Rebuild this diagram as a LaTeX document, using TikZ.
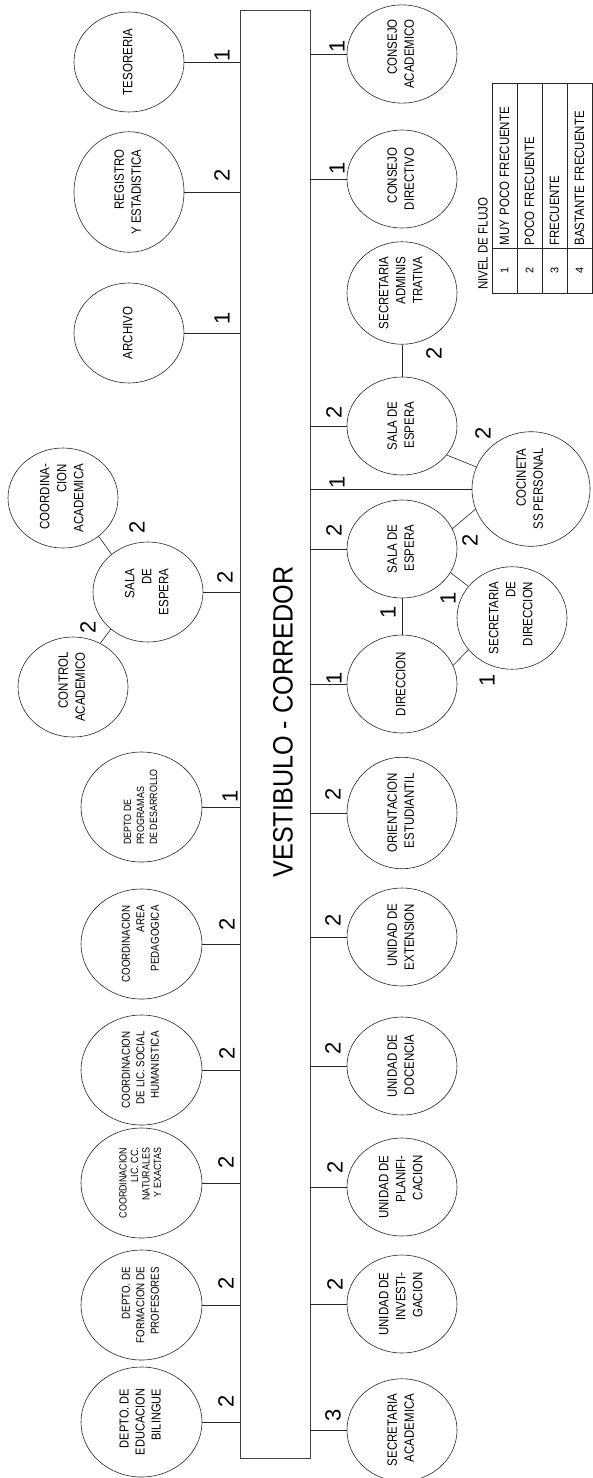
\documentclass[tikz,border=0pt]{standalone}
\usepackage{fontspec}
\usepackage{graphicx}
\setmainfont{Liberation Sans}
\newfontfamily\nar[FakeStretch=0.85]{Liberation Sans}
\newfontfamily\corrfont[FakeStretch=0.9]{Liberation Sans}
\usetikzlibrary{shapes.geometric}
\newcommand{\rtxt}[1]{\rotatebox{90}{\begin{tabular}{@{}r@{}}#1\end{tabular}}}
\newcommand{\ltxt}[1]{\rotatebox{90}{\begin{tabular}{@{}l@{}}#1\end{tabular}}}
\tikzset{
  ell/.style={draw=black!85, ellipse, inner sep=0pt, line width=0.6pt},
  ls/.style={ell, minimum width=110pt, minimum height=100pt, font=\nar\fontsize{13.5}{17}\selectfont},
  ll/.style={ell, minimum width=121pt, minimum height=110pt, font=\nar\fontsize{11.5}{14.5}\selectfont},
  rs/.style={ell, minimum width=110pt, minimum height=98pt, font=\nar\fontsize{13.5}{17}\selectfont},
  num/.style={rotate=90, inner sep=0pt, font=\fontsize{22}{22}\selectfont},
  conn/.style={draw=black!85, line width=0.6pt},
  cell/.style={draw=black!85, line width=0.6pt, rotate=90, minimum height=25pt, inner sep=0pt},
}
\begin{document}
\begin{tikzpicture}[x=1pt, y=-1pt]
\useasboundingbox (0,0) rectangle (593,1478);
% corridor
\node[draw=black!75, line width=0.9pt, minimum width=70pt, minimum height=1448pt, inner sep=0pt] (corr) at (275,734) {};
\node[rotate=90, inner sep=0pt, font=\corrfont\fontsize{28}{28}\selectfont] (corrtxt) at (283,722) {VESTIBULO - CORREDOR};

% left upper
\node[ls] (tes) at (129,62) {\rtxt{TESORERIA}};
\node[ls] (reg) at (129,192) {\rtxt{REGISTRO\\ Y ESTADISTICA}};
\node[ls] (arch) at (129,333) {\rtxt{ARCHIVO}};
\node[ls] (salal) at (148,592) {\rtxt{SALA\\DE\\ESPERA}};
\node[ls] (coordac) at (63,498) {\rtxt{COORDINA-\\CION\\ACADEMICA}};
\node[ls] (ctrl) at (73,687) {\rtxt{CONTROL\\ACADEMICO}};

% left lower
\node[ll, font=\nar\fontsize{10.5}{13}\selectfont] (prog) at (141.5,807) {\ltxt{DEPTO DE\\PROGRAMAS\\DE DESARROLLO}};
\node[ll] (area) at (141.5,944) {\rtxt{COORDINACION\\AREA\\PEDAGOGICA}};
\node[ll] (social) at (141.5,1070) {\rtxt{COORDINACION\\DE LIC. SOCIAL\\HUMANISTICA}};
\node[ll, font=\nar\fontsize{10.5}{11.5}\selectfont] (nat) at (141.5,1183) {\rtxt{COORDINACION\\LIC. CC.\\NATURALES\\Y EXACTAS}};
\node[ll] (form) at (141.5,1305) {\rtxt{DEPTO. DE\\FORMACION DE\\PROFESORES}};
\node[ll, font=\nar\fontsize{13}{16}\selectfont] (bil) at (141.5,1422) {\rtxt{DEPTO. DE\\EDUCACION\\BILINGUE}};

% right
\node[rs] (consac) at (402,54) {\rtxt{CONSEJO\\ACADEMICO}};
\node[rs] (consdir) at (402,179) {\rtxt{CONSEJO\\DIRECTIVO}};
\node[rs] (secadm) at (402,293) {\rtxt{SECRETARIA\\ADMINIS\\TRATIVA}};
\node[rs] (salau) at (402,426) {\rtxt{SALA DE\\ESPERA}};
\node[rs, minimum width=118pt, minimum height=108pt] (coc) at (531,489) {\rtxt{COCINETA\\SS PERSONAL}};
\node[rs] (salab) at (402,549) {\rtxt{SALA DE\\ESPERA}};
\node[rs, minimum height=100pt] (secdir) at (512,618) {\rtxt{SECRETARIA\\DE\\DIRECCION}};
\node[rs] (dir) at (402,684) {\rtxt{DIRECCION}};
\node[rs] (orient) at (402,813) {\rtxt{ORIENTACION\\ESTUDIANTIL}};
\node[rs] (ext) at (402,937) {\rtxt{UNIDAD DE\\EXTENSION}};
\node[rs] (doc) at (402,1066) {\rtxt{UNIDAD DE\\DOCENCIA}};
\node[rs] (plan) at (402,1187) {\rtxt{UNIDAD DE\\PLANIFI-\\CACION}};
\node[rs] (inv) at (402,1304) {\rtxt{UNIDAD DE\\INVESTI-\\GACION}};
\node[rs] (secac) at (402,1430) {\rtxt{SECRETARIA\\ACADEMICA}};

% connectors to corridor (left)
\foreach \n in {tes,reg,arch,salal,prog,area,social,nat,form,bil}
  \draw[conn] (\n.east) -- (\n.east -| corr.west);
% connectors to corridor (right)
\foreach \n in {consac,consdir,salau,coc,salab,dir,orient,ext,doc,plan,inv,secac}
  \draw[conn] (\n.west) -- (\n.west -| corr.east);
% connectors between rooms
\draw[conn] (salal.134) -- (coordac.313);
\draw[conn] (salal.225) -- (ctrl.58);
\draw[conn] (secadm.south) -- (salau.north);
\draw[conn] (salau.327) -- (coc.158);
\draw[conn] (coc.200) -- (salab.22);
\draw[conn] (salab.334) -- (secdir.144);
\draw[conn] (dir.20) -- (secdir.216);
\draw[conn] (dir.north) -- (salab.south);

% flow numbers
\node[num] (n1) at (222,55) {1};
\node[num] (n2) at (222,175) {2};
\node[num] (n3) at (222,318) {1};
\node[num] (n4) at (225,577) {2};
\node[num] (n5) at (137,527) {2};
\node[num] (n6) at (88,627) {2};
\node[num] (n7) at (230,796) {1};
\node[num] (n8) at (227,924) {2};
\node[num] (n9) at (227,1053) {2};
\node[num] (n10) at (226,1162) {2};
\node[num] (n11) at (226,1283) {2};
\node[num] (n12) at (226,1401) {2};
\node[num] (m1) at (337,46) {1};
\node[num] (m2) at (337,168) {1};
\node[num] (m3) at (434,353) {2};
\node[num] (m4) at (334,412) {2};
\node[num] (m5) at (483,433) {2};
\node[num] (m6) at (337,482) {1};
\node[num] (m7) at (470,540) {2};
\node[num] (m8) at (334,530) {2};
\node[num] (m9) at (448,598) {1};
\node[num] (m10) at (388,612) {1};
\node[num] (m11) at (487,680) {1};
\node[num] (m12) at (334,678) {1};
\node[num] (m13) at (333,794) {2};
\node[num] (m14) at (333,920) {2};
\node[num] (m15) at (333,1048) {2};
\node[num] (m16) at (335,1167) {2};
\node[num] (m17) at (335,1284) {2};
\node[num] (m18) at (333,1415) {3};

% legend
\node[rotate=90, anchor=west, inner sep=0pt, font=\nar\fontsize{13.5}{15}\selectfont] (lgtitle) at (483,290) {NIVEL DE FLUJO};
\begin{scope}[every node/.append style={font=\nar\fontsize{13.5}{15}\selectfont}]
\node[cell, minimum width=165pt, text width=160pt, align=left, inner xsep=2.5pt] (t1) at (504.5,165.5) {MUY POCO FRECUENTE};
\node[cell, minimum width=165pt, text width=160pt, align=left, inner xsep=2.5pt] (t2) at (529.5,165.5) {POCO FRECUENTE};
\node[cell, minimum width=165pt, text width=160pt, align=left, inner xsep=2.5pt] (t3) at (554.5,165.5) {FRECUENTE};
\node[cell, minimum width=165pt, text width=160pt, align=left, inner xsep=2.5pt] (t4) at (579.5,165.5) {BASTANTE FRECUENTE};
\end{scope}
\begin{scope}[every node/.append style={font=\fontsize{11}{11}\selectfont}]
\node[cell, minimum width=45pt] (c1) at (504.5,270.5) {1};
\node[cell, minimum width=45pt] (c2) at (529.5,270.5) {2};
\node[cell, minimum width=45pt] (c3) at (554.5,270.5) {3};
\node[cell, minimum width=45pt] (c4) at (579.5,270.5) {4};
\end{scope}
\end{tikzpicture}
\end{document}
